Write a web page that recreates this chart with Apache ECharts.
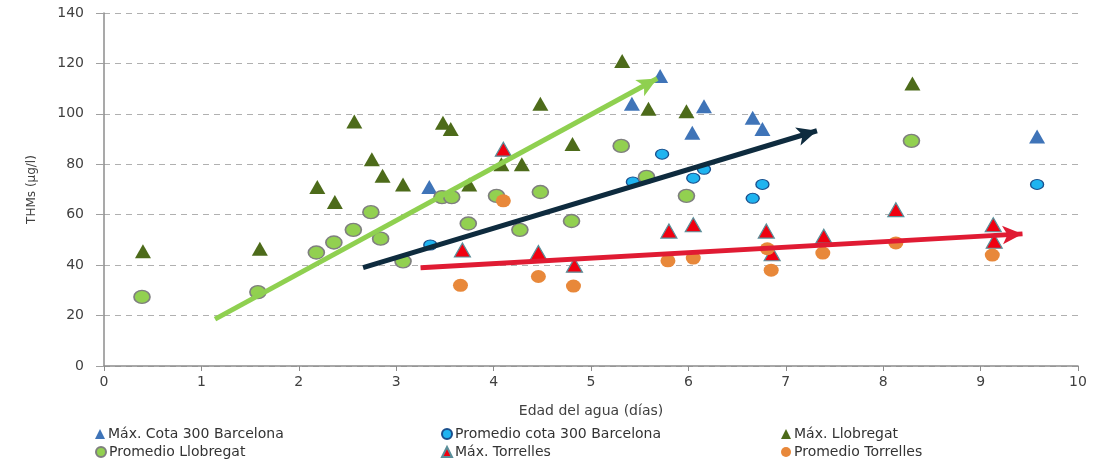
<!DOCTYPE html>
<html><head><meta charset="utf-8">
<script src="https://cdn.jsdelivr.net/npm/echarts@6/dist/echarts.min.js"></script>
<style>html,body{margin:0;padding:0;background:#fff}#c{width:1100px;height:463px}</style>
</head><body><div id="c"></div>
<script>
// Data: [edad (días), THMs (µg/l)]
const maxCota300 = [[3.34,71],[5.42,104],[5.71,115],[6.04,92.5],[6.16,103],[6.66,98.5],[6.76,94],[9.58,91]];
const promCota300 = [[3.35,48],[5.43,73],[5.73,84],[6.05,74.5],[6.16,78],[6.66,66.5],[6.76,72],[9.58,72]];
const maxLlobregat = [[0.4,45.5],[1.6,46.5],[2.19,71],[2.37,65],[2.57,97],[2.75,82],[2.86,75.5],[3.07,72],[3.48,96.5],[3.56,94],[3.75,72],[4.08,80],[4.29,80],[4.48,104],[4.81,88],[5.32,121],[5.59,102],[5.98,101],[8.3,112]];
const promLlobregat = [[0.39,27.4],[1.58,29.3],[2.18,45],[2.36,49],[2.56,54],[2.74,61],[2.84,50.5],[3.07,41.5],[3.47,67],[3.57,67],[3.74,56.5],[4.03,67.5],[4.27,54],[4.48,69],[4.8,57.5],[5.31,87.3],[5.57,75],[5.98,67.5],[8.29,89.3]];
const maxTorrelles = [[4.1,86],[3.68,46],[4.46,45],[4.83,40],[5.8,53.5],[6.05,56],[6.8,53.5],[6.86,44.5],[7.39,51.5],[8.13,62],[9.13,56],[9.14,49.5]];
const promTorrelles = [[3.66,32],[4.1,65.5],[4.46,35.5],[4.82,31.7],[5.79,41.7],[6.05,42.8],[6.81,46.5],[6.85,38],[7.38,44.8],[8.13,48.8],[9.12,44]];
// Trend arrows (start, end) in data coordinates
const arrowLlobregat = [[1.14,18.6],[5.68,114]];
const arrowCota300 = [[2.66,39],[7.32,93.3]];
const arrowTorrelles = [[3.25,39],[9.43,52.4]];
const xTicks = [0,10,1];
const yTicks = [0,140,20];
const names = ['Máx. Cota 300 Barcelona','Promedio cota 300 Barcelona','Máx. Llobregat','Promedio Llobregat','Máx. Torrelles','Promedio Torrelles'];

const chart = echarts.init(document.getElementById('c'), null, {renderer:'canvas'});
const txt = '#404040';
const font = 'DejaVu Sans';
function sc(name, data, symbol, size, color, border, bw){
  return {type:'scatter', name, data, symbol, symbolSize:size,
    itemStyle:{color, borderColor:border||color, borderWidth:bw||0, opacity:1}, z:3};
}
function arrow(pts, color){
  return [{coord:pts[0], lineStyle:{color}}, {coord:pts[1]}];
}
const legPos = [[95,427],[441,427],[781,427],[95,445],[441,445],[781,445]];
const legendIcons = ['triangle','circle','triangle','circle','triangle','circle'];
chart.setOption({
  animation:false,
  textStyle:{fontFamily:font},
  grid:{left:104,right:22,top:13,bottom:97},
  xAxis:{type:'value',min:xTicks[0],max:xTicks[1],interval:xTicks[2],
    name:'Edad del agua (días)',nameLocation:'middle',nameGap:38,
    nameTextStyle:{color:txt,fontSize:14,fontFamily:font},
    axisLine:{lineStyle:{color:'#8c8c8c',width:1.5}},
    axisTick:{show:true,length:5,lineStyle:{color:'#8c8c8c'}},
    axisLabel:{color:txt,fontSize:14,margin:9},
    splitLine:{show:false}},
  yAxis:{type:'value',min:yTicks[0],max:yTicks[1],interval:yTicks[2],
    name:'THMs (µg/l)',nameLocation:'middle',nameGap:66,nameRotate:90,
    nameTextStyle:{color:txt,fontSize:12,fontFamily:font},
    axisLine:{show:true,lineStyle:{color:'#8c8c8c',width:1.5}},
    axisTick:{show:true,length:8,lineStyle:{color:'#a0a0a0'}},
    axisLabel:{color:txt,fontSize:14,margin:20},
    splitLine:{show:true,lineStyle:{color:'#b0b0b0',type:[6,5],width:1.2}}},
  legend: names.map((n,i)=>({data:[{name:n,icon:legendIcons[i]}],left:legPos[i][0],top:legPos[i][1],
    itemWidth:10,itemHeight:10,itemGap:4,padding:0,
    textStyle:{color:'#333',fontSize:14,fontFamily:font,padding:[0,0,0,-2]}})),
  series:[
    sc(names[0],maxCota300,'triangle',[16,14],'#3f74b8'),
    sc(names[1],promCota300,'circle',[13,10],'#1fb4f0','#1a4f8c',1.2),
    sc(names[2],maxLlobregat,'triangle',[16,14],'#4d6b1a'),
    sc(names[3],promLlobregat,'circle',[16,13],'#92d050','#7f7f7f',1.5),
    sc(names[4],maxTorrelles,'triangle',[16,14],'#f00010','#5a8f9a',1.2),
    sc(names[5],promTorrelles,'circle',[15,13],'#e8883a'),
    {type:'scatter',name:'_arrows',data:[],z:5,silent:true,
      markLine:{silent:true,symbol:['none','arrow'],symbolSize:[14,20],animation:false,
        label:{show:false},emphasis:{disabled:true},
        lineStyle:{width:5,type:'solid',opacity:1},
        data:[arrow(arrowLlobregat,'#8fd050'),arrow(arrowCota300,'#0e2b3e'),arrow(arrowTorrelles,'#e01b33')]}}
  ]
});
</script></body></html>
